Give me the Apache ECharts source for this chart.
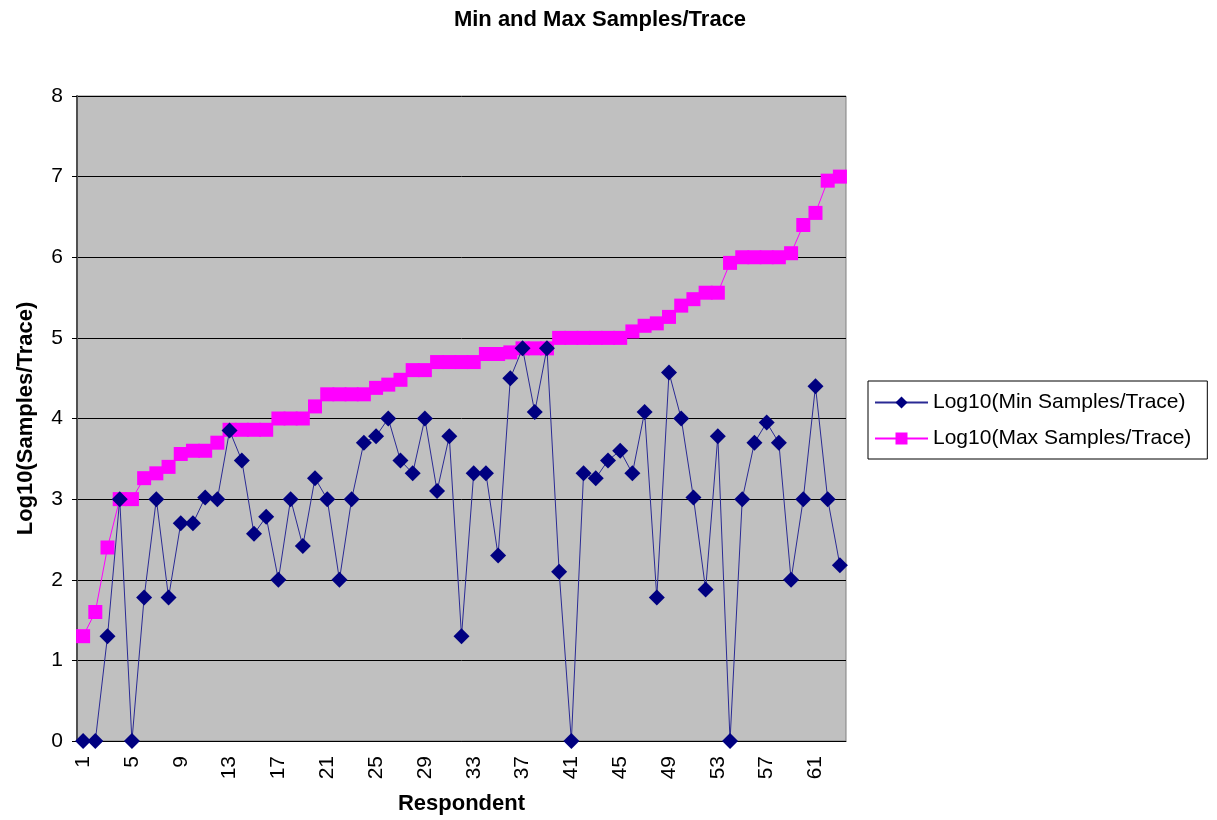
<!DOCTYPE html>
<html>
<head>
<meta charset="utf-8">
<script src="https://cdn.jsdelivr.net/npm/echarts@6/dist/echarts.min.js"></script>
<style>
  html, body { margin: 0; padding: 0; background: #fff; }
  #chart { width: 1217px; height: 820px; }
</style>
</head>
<body>
<div id="chart"></div>
<script>
// respondents 1..63
var respondents = [];
for (var i = 1; i <= 63; i++) respondents.push(String(i));

var minSamples = [
  0, 0, 1.3, 3.0, 0, 1.78, 3.0, 1.78, 2.7, 2.7,
  3.02, 3.0, 3.85, 3.48, 2.57, 2.78, 2.0, 3.0, 2.42, 3.26,
  3.0, 2.0, 3.0, 3.7, 3.78, 4.0, 3.48, 3.32, 4.0, 3.1,
  3.78, 1.3, 3.32, 3.32, 2.3, 4.5, 4.87, 4.08, 4.87, 2.1,
  0, 3.32, 3.26, 3.48, 3.6, 3.32, 4.08, 1.78, 4.57, 4.0,
  3.02, 1.88, 3.78, 0, 3.0, 3.7, 3.95, 3.7, 2.0, 3.0,
  4.4, 3.0, 2.18
];

var maxSamples = [
  1.3, 1.6, 2.4, 3.0, 3.0, 3.26, 3.32, 3.4, 3.56, 3.6,
  3.6, 3.7, 3.86, 3.86, 3.86, 3.86, 4.0, 4.0, 4.0, 4.15,
  4.3, 4.3, 4.3, 4.3, 4.38, 4.42, 4.48, 4.6, 4.6, 4.7,
  4.7, 4.7, 4.7, 4.8, 4.8, 4.82, 4.87, 4.87, 4.87, 5.0,
  5.0, 5.0, 5.0, 5.0, 5.0, 5.08, 5.15, 5.18, 5.26, 5.4,
  5.48, 5.56, 5.56, 5.93, 6.0, 6.0, 6.0, 6.0, 6.05, 6.4,
  6.55, 6.95, 7.0
];

var font = 'Liberation Sans, Arial, sans-serif';
var myChart = echarts.init(document.getElementById('chart'));
myChart.setOption({
  animation: false,
  title: {
    text: 'Min and Max Samples/Trace',
    left: 595,
    top: 4,
    textAlign: 'center',
    textStyle: { fontFamily: font, fontSize: 22, fontWeight: 'bold', color: '#000' }
  },
  legend: {
    orient: 'vertical',
    left: 868,
    top: 381,
    padding: [11, 16, 10, 6],
    itemGap: 15,
    itemWidth: 53,
    itemHeight: 15,
    borderColor: '#000',
    borderWidth: 1,
    textStyle: { fontFamily: font, fontSize: 21, color: '#000' },
    data: ['Log10(Min Samples/Trace)', 'Log10(Max Samples/Trace)']
  },
  grid: {
    left: 77,
    right: 371,
    top: 96,
    bottom: 78,
    show: true,
    backgroundColor: '#c0c0c0',
    borderColor: '#808080',
    borderWidth: 1
  },
  xAxis: {
    type: 'category',
    data: respondents,
    boundaryGap: true,
    name: 'Respondent',
    nameLocation: 'middle',
    nameGap: 52,
    nameTextStyle: { fontFamily: font, fontSize: 22, fontWeight: 'bold', color: '#000' },
    axisLine: { lineStyle: { color: '#000', width: 1 } },
    axisTick: { interval: 0, length: 4, lineStyle: { color: '#000' } },
    axisLabel: {
      interval: 3,
      rotate: 90,
      margin: 15,
      fontFamily: font,
      fontSize: 21,
      color: '#000'
    },
    splitLine: { show: false }
  },
  yAxis: {
    type: 'value',
    min: 0,
    max: 8,
    interval: 1,
    name: 'Log10(Samples/Trace)',
    nameLocation: 'middle',
    nameGap: 40,
    nameTextStyle: { fontFamily: font, fontSize: 22, fontWeight: 'bold', color: '#000' },
    axisLine: { show: true, lineStyle: { color: '#505050', width: 2 } },
    axisTick: { show: true, length: 5, lineStyle: { color: '#000' } },
    axisLabel: { margin: 14, fontFamily: font, fontSize: 21, color: '#000' },
    splitLine: { lineStyle: { color: '#000', width: 1 } }
  },
  series: [
    {
      name: 'Log10(Min Samples/Trace)',
      type: 'line',
      data: minSamples,
      symbol: 'diamond',
      symbolSize: 16,
      showSymbol: true,
      showAllSymbol: true,
      color: '#000080',
      lineStyle: { color: '#2a2a94', width: 1 },
      itemStyle: { color: '#000080' },
      z: 3
    },
    {
      name: 'Log10(Max Samples/Trace)',
      type: 'line',
      data: maxSamples,
      symbol: 'rect',
      symbolSize: 14,
      showSymbol: true,
      showAllSymbol: true,
      color: '#ff00ff',
      lineStyle: { color: '#ff00ff', width: 1 },
      itemStyle: { color: '#ff00ff' },
      z: 2
    }
  ]
});
</script>
</body>
</html>
